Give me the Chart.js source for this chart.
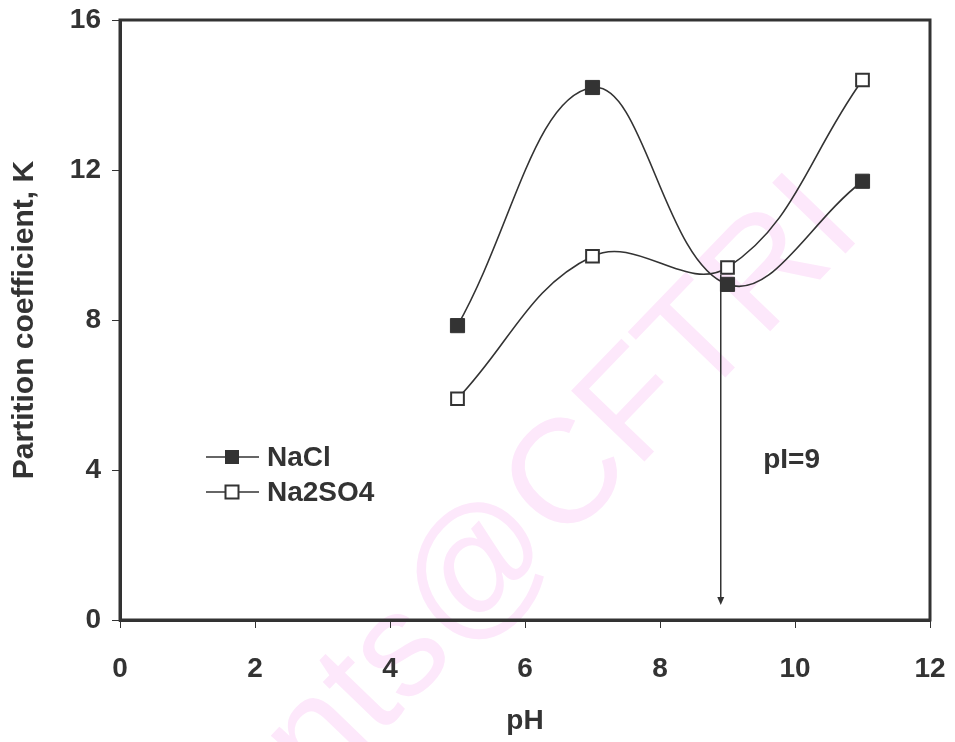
<!DOCTYPE html>
<html>
<head>
<meta charset="utf-8">
<script src="https://cdn.jsdelivr.net/npm/chart.js@4.4.1/dist/chart.umd.min.js"></script>
<style>
  html, body { margin: 0; padding: 0; background: #fff; }
  #wrap { width: 955px; height: 742px; }
</style>
</head>
<body>
<div id="wrap"><canvas id="chart" width="955" height="742"></canvas></div>
<script>
// ── data ──
const phValues = [5, 7, 9, 11];
const naclK = [7.85, 14.2, 8.95, 11.7];
const na2so4K = [5.9, 9.7, 9.4, 14.4];

const xTicks = [0, 2, 4, 6, 8, 10, 12];
const yTicks = [0, 4, 8, 12, 16];

const seriesNames = ['NaCl', 'Na2SO4'];

// pI marker: arrow dropped from the curves down to the axis
const pIArrowX = 8.9;
const pIArrowY = [9.2, 0.4];
const pILabel = 'pI=9';
const pILabelAt = [9.95, 4.25];

const watermarkText = 'nts@CFTRI';

// ── styles ──
const INK = '#333333';
const FONT = "'Liberation Sans', Arial, Helvetica, sans-serif";

function toPoints(xs, ys) {
    return xs.map((x, i) => ({ x: x, y: ys[i] }));
}

// frame, watermark, pI arrow + label, in-plot legend
const decorations = {
    id: 'decorations',
    beforeDraw(chart) {
        const ctx = chart.ctx;
        ctx.save();
        ctx.fillStyle = '#fde8fb';
        ctx.font = '148px ' + FONT;
        ctx.textAlign = 'center';
        ctx.textBaseline = 'middle';
        ctx.translate(563, 487);
        ctx.rotate(-46 * Math.PI / 180);
        ctx.fillText(watermarkText, 0, 0);
        ctx.restore();
    },
    beforeDatasetsDraw(chart) {
        const { ctx, chartArea: a, scales: { x, y } } = chart;
        ctx.save();
        ctx.strokeStyle = INK;
        ctx.lineWidth = 3;
        ctx.strokeRect(a.left, a.top, a.right - a.left, a.bottom - a.top);

        // arrow
        const ax = x.getPixelForValue(pIArrowX);
        const y0 = y.getPixelForValue(pIArrowY[0]);
        const y1 = y.getPixelForValue(pIArrowY[1]);
        ctx.lineWidth = 1.5;
        ctx.beginPath();
        ctx.moveTo(ax, y0);
        ctx.lineTo(ax, y1 - 6);
        ctx.stroke();
        ctx.fillStyle = INK;
        ctx.beginPath();
        ctx.moveTo(ax - 3.5, y1 - 8);
        ctx.lineTo(ax + 3.5, y1 - 8);
        ctx.lineTo(ax, y1);
        ctx.closePath();
        ctx.fill();

        // label
        ctx.font = 'bold 28px ' + FONT;
        ctx.textAlign = 'center';
        ctx.textBaseline = 'middle';
        ctx.fillText(pILabel, x.getPixelForValue(pILabelAt[0]), y.getPixelForValue(pILabelAt[1]));
        ctx.restore();
    },
    afterDraw(chart) {
        const ctx = chart.ctx;
        const a = chart.chartArea;
        ctx.save();
        ctx.font = 'bold 28px ' + FONT;
        ctx.textBaseline = 'middle';
        ctx.textAlign = 'left';
        chart.data.datasets.forEach((ds, i) => {
            const cy = a.top + 437 + i * 35;
            const lx = a.left + 86;
            ctx.strokeStyle = INK;
            ctx.lineWidth = 1.5;
            ctx.beginPath();
            ctx.moveTo(lx, cy);
            ctx.lineTo(lx + 53, cy);
            ctx.stroke();
            const s = 13;
            ctx.fillStyle = ds.pointBackgroundColor;
            ctx.fillRect(lx + 26 - s / 2, cy - s / 2, s, s);
            ctx.lineWidth = ds.pointBorderWidth;
            ctx.strokeRect(lx + 26 - s / 2, cy - s / 2, s, s);
            ctx.fillStyle = INK;
            ctx.fillText(ds.label, lx + 61, cy + 1);
        });
        ctx.restore();
    }
};

const axisFont = { family: FONT, size: 28, weight: 'bold' };

new Chart(document.getElementById('chart'), {
    type: 'line',
    data: {
        datasets: [{
            label: seriesNames[0],
            data: toPoints(phValues, naclK),
            borderColor: INK,
            borderWidth: 1.6,
            tension: 0.4,
            pointStyle: 'rect',
            pointRadius: 10,
            pointBackgroundColor: INK,
            pointBorderColor: INK,
            pointBorderWidth: 1
        }, {
            label: seriesNames[1],
            data: toPoints(phValues, na2so4K),
            borderColor: INK,
            borderWidth: 1.6,
            tension: 0.4,
            pointStyle: 'rect',
            pointRadius: 9,
            pointBackgroundColor: '#ffffff',
            pointBorderColor: INK,
            pointBorderWidth: 2
        }]
    },
    options: {
        responsive: false,
        animation: false,
        events: [],
        layout: { padding: { top: 20, right: 25, left: 0, bottom: 0 } },
        plugins: {
            legend: { display: false },
            tooltip: { enabled: false }
        },
        scales: {
            x: {
                type: 'linear',
                min: 0,
                max: 12,
                afterBuildTicks: s => { s.ticks = xTicks.map(v => ({ value: v })); },
                afterFit: s => { s.height = 122; s.paddingLeft = 0; s.paddingRight = 0; },
                ticks: { color: INK, font: axisFont, padding: 24, maxRotation: 0 },
                grid: { drawOnChartArea: false, drawTicks: true, tickLength: 8, color: INK, lineWidth: 1 },
                border: { display: true, color: INK, width: 3 },
                title: { display: true, text: 'pH', color: INK, font: axisFont, padding: { top: 0, bottom: 4 } }
            },
            y: {
                type: 'linear',
                min: 0,
                max: 16,
                afterBuildTicks: s => { s.ticks = yTicks.map(v => ({ value: v })); },
                afterFit: s => { s.width = 120; s.paddingTop = 0; s.paddingBottom = 0; },
                ticks: { color: INK, font: axisFont, padding: 11 },
                grid: { drawOnChartArea: false, drawTicks: true, tickLength: 8, color: INK, lineWidth: 1 },
                border: { display: true, color: INK, width: 3 },
                title: { display: true, text: 'Partition coefficient, K', color: INK,
                         font: { family: FONT, size: 30, weight: 'bold' }, padding: { top: 7, bottom: 0 } }
            }
        }
    },
    plugins: [decorations]
});
</script>
</body>
</html>
